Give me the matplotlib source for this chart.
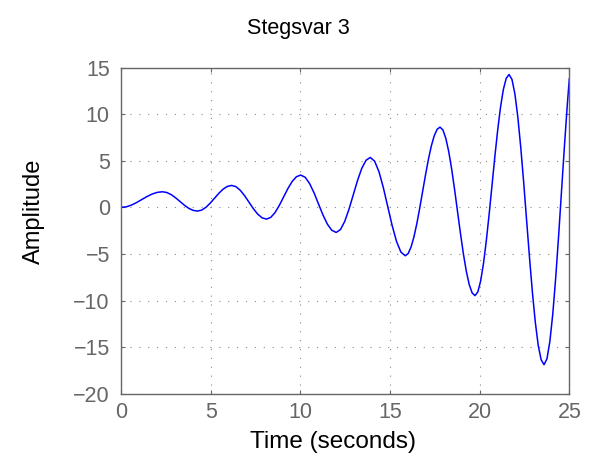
import matplotlib
matplotlib.use("Agg")
import matplotlib.pyplot as plt

time_s = [
    0.0, 0.289, 0.578, 0.866, 1.155, 1.444, 1.733, 2.021, 2.31,
    2.554, 2.798, 3.041, 3.285, 3.529, 3.773, 4.016, 4.26,
    4.499, 4.738, 4.976, 5.215, 5.454, 5.693, 5.931, 6.17,
    6.413, 6.655, 6.898, 7.14, 7.383, 7.625, 7.868, 8.11,
    8.349, 8.588, 8.826, 9.065, 9.304, 9.543, 9.781, 10.02,
    10.268, 10.515, 10.763, 11.01, 11.258, 11.505, 11.753, 12.0,
    12.238, 12.475, 12.713, 12.95, 13.188, 13.425, 13.663, 13.9,
    14.144, 14.388, 14.631, 14.875, 15.119, 15.363, 15.606, 15.85,
    16.012, 16.173, 16.335, 16.497, 16.658, 16.82, 16.982, 17.143, 17.305, 17.467, 17.628, 17.79,
    17.953, 18.115, 18.278, 18.44, 18.603, 18.765, 18.928, 19.09, 19.253, 19.415, 19.578, 19.74,
    19.898, 20.057, 20.215, 20.373, 20.532, 20.69, 20.848, 21.007, 21.165, 21.323, 21.482, 21.64,
    21.803, 21.965, 22.128, 22.29, 22.453, 22.615, 22.778, 22.94, 23.103, 23.265, 23.428, 23.59,
    23.753, 23.915, 24.078, 24.24, 24.403, 24.565, 24.728, 24.89, 25.0,
]
amplitude = [
    0.0, 0.064, 0.246, 0.519, 0.84, 1.161, 1.434, 1.616, 1.68,
    1.601, 1.377, 1.041, 0.645, 0.249, -0.087, -0.311, -0.39,
    -0.285, 0.013, 0.459, 0.985, 1.511, 1.957, 2.255, 2.36,
    2.223, 1.831, 1.246, 0.555, -0.136, -0.721, -1.113, -1.25,
    -1.07, -0.559, 0.207, 1.11, 2.013, 2.779, 3.29, 3.47,
    3.236, 2.569, 1.572, 0.395, -0.782, -1.779, -2.446, -2.68,
    -2.374, -1.503, -0.198, 1.34, 2.878, 4.183, 5.054, 5.36,
    4.959, 3.816, 2.107, 0.09, -1.927, -3.636, -4.779, -5.18,
    -4.945, -4.256, -3.161, -1.733, -0.069, 1.715, 3.499, 5.163, 6.591, 7.686, 8.375, 8.61,
    8.302, 7.399, 5.964, 4.093, 1.913, -0.425, -2.763, -4.943, -6.814, -8.249, -9.152, -9.46,
    -9.056, -7.871, -5.988, -3.533, -0.673, 2.395, 5.463, 8.323, 10.778, 12.661, 13.846, 14.25,
    13.72, 12.166, 9.694, 6.473, 2.721, -1.305, -5.331, -9.083, -12.304, -14.776, -16.33, -16.86,
    -16.225, -14.364, -11.403, -7.545, -3.052, 1.77, 6.592, 11.085, 13.8,
]
x_ticks = [0, 5, 10, 15, 20, 25]
y_ticks = [-20, -15, -10, -5, 0, 5, 10, 15]

plt.rcParams["font.family"] = ["Liberation Sans", "DejaVu Sans"]
AXIS_GRAY = "#666666"

fig = plt.figure(figsize=(5.89, 4.65), dpi=100)
ax = fig.add_axes([0.2054, 0.1527, 0.7612, 0.7021])

ax.plot(time_s, amplitude, color="#0000ff", linewidth=1.1)

ax.set_xlim(0, 25)
ax.set_ylim(-20, 15)
ax.set_xticks(x_ticks)
ax.set_yticks(y_ticks)

# MATLAB-like box, inward ticks, dotted grid
ax.tick_params(direction="in", length=3, width=0.8, colors=AXIS_GRAY,
               labelsize=15.5, top=True, right=True)
ax.tick_params(axis="y", pad=8)
ax.tick_params(axis="x", pad=6)
for side in ax.spines.values():
    side.set_color(AXIS_GRAY)
    side.set_linewidth(1.0)
ax.grid(True, color="#8a8a8a", linestyle=(0, (1, 7)), linewidth=0.8)

# title sits over the figure centre, not the axes centre
fig.text(0.506, 0.938, "Stegsvar 3", fontsize=15.5, color="black",
         ha="center", va="center")
ax.set_xlabel("Time (seconds)", fontsize=17.5, color="black")
ax.xaxis.set_label_coords(0.474, -0.113)
ax.set_ylabel("Amplitude", fontsize=17, color="black")
ax.yaxis.set_label_coords(-0.17, 0.56)

fig.savefig("out.png", dpi=100)
